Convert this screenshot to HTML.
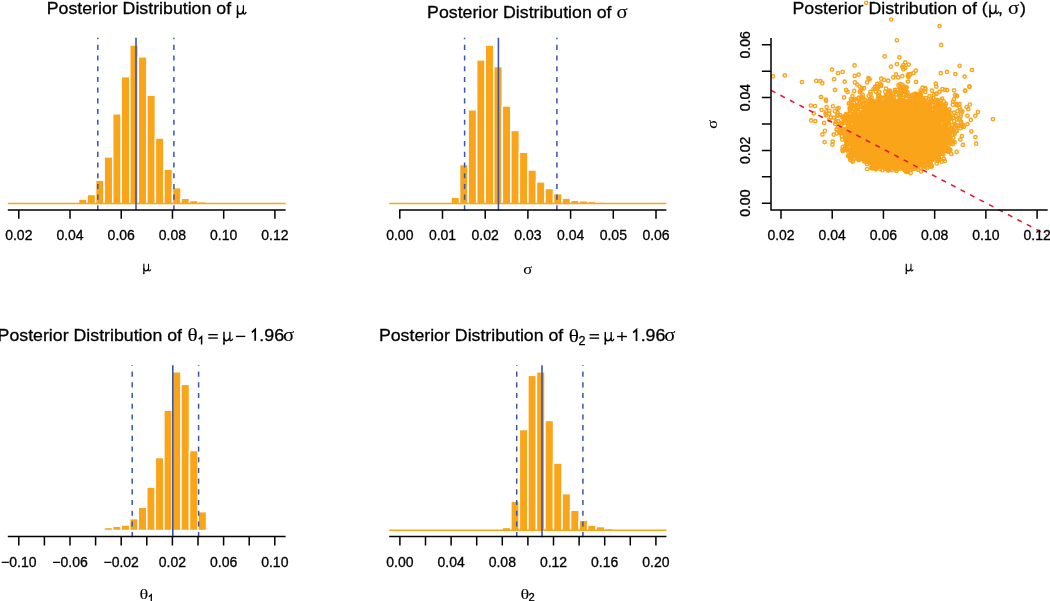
<!DOCTYPE html>
<html><head><meta charset="utf-8"><title>Posterior distributions</title>
<style>html,body{margin:0;padding:0;background:#fff}svg{display:block;will-change:transform}text{font-family:"Liberation Sans",sans-serif;fill:#000;stroke:#000;stroke-width:.3px}.g{font-family:"Liberation Serif",serif;stroke-width:.1px}</style></head>
<body>
<svg width="1050" height="601" viewBox="0 0 1050 601">
<rect width="1050" height="601" fill="#fff"/>
<g fill="#FAA41A" stroke="#fff" stroke-width="1.5">
<rect x="78.56" y="199.05" width="8.54" height="5.2"/>
<rect x="87.1" y="194.45" width="8.54" height="9.8"/>
<rect x="95.63" y="180.15" width="8.54" height="24.1"/>
<rect x="104.17" y="156.85" width="8.54" height="47.4"/>
<rect x="112.71" y="113.75" width="8.54" height="90.5"/>
<rect x="121.25" y="76.65" width="8.54" height="127.6"/>
<rect x="129.78" y="45.05" width="8.54" height="159.2"/>
<rect x="138.32" y="56.85" width="8.54" height="147.4"/>
<rect x="146.86" y="95.15" width="8.54" height="109.1"/>
<rect x="155.39" y="138.05" width="8.54" height="66.2"/>
<rect x="163.93" y="169.15" width="8.54" height="35.1"/>
<rect x="172.47" y="187.65" width="8.54" height="16.6"/>
<rect x="181" y="198.25" width="8.54" height="6"/>
<rect x="189.54" y="200.45" width="8.54" height="3.8"/>
<rect x="198.08" y="201.75" width="8.54" height="2.5"/>
<rect x="206.62" y="202.25" width="8.54" height="2"/>
</g>
<line x1="7.8" x2="285.6" y1="203.5" y2="203.5" stroke="#FAA41A" stroke-width="1.5"/>
<line x1="97.8" x2="97.8" y1="210.4" y2="37.8" stroke="#3A55AA" stroke-width="1.5" stroke-dasharray="5.1 5.6"/>
<line x1="173.9" x2="173.9" y1="210.4" y2="37.8" stroke="#3A55AA" stroke-width="1.5" stroke-dasharray="5.1 5.6"/>
<line x1="136" x2="136" y1="210.4" y2="37.8" stroke="#3A55AA" stroke-width="1.6"/>
<path d="M7.8 209.9H285.6M18.8 209.9v8.9M70.02 209.9v8.9M121.24 209.9v8.9M172.46 209.9v8.9M223.68 209.9v8.9M274.9 209.9v8.9" fill="none" stroke="#000" stroke-width="1.5"/>
<g font-size="14" text-anchor="middle">
<text x="18.8" y="239.9">0.02</text>
<text x="70.02" y="239.9">0.04</text>
<text x="121.24" y="239.9">0.06</text>
<text x="172.46" y="239.9">0.08</text>
<text x="223.68" y="239.9">0.10</text>
<text x="274.9" y="239.9">0.12</text>
</g>
<text transform="translate(46.69 14.20) scale(1 .955)" font-size="17.85" textLength="184.4" lengthAdjust="spacingAndGlyphs">Posterior Distribution of</text>
<g transform="translate(236.30 14.20) scale(1.000)" fill="none" stroke="#000" stroke-linecap="butt"><path d="M1.2 -9V2.4" stroke-width="1.45"/><ellipse cx="1.15" cy="2.9" rx="1.05" ry="1.05" fill="#000" stroke="none"/><path d="M1.2 -3.4C1.3 .7 5.6 1.1 7.05 -3.2" stroke-width="1.5"/><path d="M7.1 -9V-1.7C7.1 .5 8.9 .5 9.9 -2.1" stroke-width="1.3"/></g>
<g transform="translate(142.90 271.00) scale(0.800)" fill="none" stroke="#000" stroke-linecap="butt"><path d="M1.2 -9V2.4" stroke-width="1.45"/><ellipse cx="1.15" cy="2.9" rx="1.05" ry="1.05" fill="#000" stroke="none"/><path d="M1.2 -3.4C1.3 .7 5.6 1.1 7.05 -3.2" stroke-width="1.5"/><path d="M7.1 -9V-1.7C7.1 .5 8.9 .5 9.9 -2.1" stroke-width="1.3"/></g>
<g fill="#FAA41A" stroke="#fff" stroke-width="1.5">
<rect x="451.04" y="197.15" width="8.54" height="7.1"/>
<rect x="459.58" y="164.55" width="8.54" height="39.7"/>
<rect x="468.12" y="109.75" width="8.54" height="94.5"/>
<rect x="476.66" y="59.85" width="8.54" height="144.4"/>
<rect x="485.2" y="45.05" width="8.54" height="159.2"/>
<rect x="493.74" y="66.55" width="8.54" height="137.7"/>
<rect x="502.28" y="105.95" width="8.54" height="98.3"/>
<rect x="510.82" y="130.45" width="8.54" height="73.8"/>
<rect x="519.36" y="152.25" width="8.54" height="52"/>
<rect x="527.9" y="169.95" width="8.54" height="34.3"/>
<rect x="536.44" y="181.85" width="8.54" height="22.4"/>
<rect x="544.98" y="188.45" width="8.54" height="15.8"/>
<rect x="553.52" y="193.65" width="8.54" height="10.6"/>
<rect x="562.06" y="198.15" width="8.54" height="6.1"/>
<rect x="570.6" y="200.25" width="8.54" height="4"/>
<rect x="579.14" y="200.75" width="8.54" height="3.5"/>
<rect x="587.68" y="201.45" width="8.54" height="2.8"/>
<rect x="596.22" y="202.05" width="8.54" height="2.2"/>
</g>
<line x1="389.2" x2="666.4" y1="203.5" y2="203.5" stroke="#FAA41A" stroke-width="1.5"/>
<line x1="464.6" x2="464.6" y1="210.4" y2="37.8" stroke="#3A55AA" stroke-width="1.5" stroke-dasharray="5.1 5.6"/>
<line x1="556.9" x2="556.9" y1="210.4" y2="37.8" stroke="#3A55AA" stroke-width="1.5" stroke-dasharray="5.1 5.6"/>
<line x1="498.4" x2="498.4" y1="210.4" y2="37.8" stroke="#3A55AA" stroke-width="1.6"/>
<path d="M399.05 209.9H666.4M399.8 209.9v8.9M442.5 209.9v8.9M485.2 209.9v8.9M527.9 209.9v8.9M570.6 209.9v8.9M613.3 209.9v8.9M656 209.9v8.9" fill="none" stroke="#000" stroke-width="1.5"/>
<g font-size="14" text-anchor="middle">
<text x="399.8" y="239.9">0.00</text>
<text x="442.5" y="239.9">0.01</text>
<text x="485.2" y="239.9">0.02</text>
<text x="527.9" y="239.9">0.03</text>
<text x="570.6" y="239.9">0.04</text>
<text x="613.3" y="239.9">0.05</text>
<text x="656" y="239.9">0.06</text>
</g>
<text transform="translate(427.09 17.80) scale(1 .955)" font-size="17.85" textLength="184.4" lengthAdjust="spacingAndGlyphs">Posterior Distribution of</text>
<text class="g" font-size="17.7" transform="translate(616.47 17.80) scale(1.170 1.030)">σ</text>
<text class="g" font-size="17.7" transform="translate(523.32 274.00) scale(0.936 0.824)">σ</text>
<path d="M901 65h3v1h-3zM902 66h4v1h-4zM902 68h3v1h-3zM907 73h3v1h-3zM906 74h4v1h-4zM912 74h3v1h-3zM906 75h4v1h-4zM906 76h5v1h-5zM867 77h3v1h-3zM880 77h3v1h-3zM907 77h3v1h-3zM869 79h3v1h-3zM887 79h3v1h-3zM867 80h4v1h-4zM876 82h3v1h-3zM901 83h3v1h-3zM878 84h5v1h-5zM898 84h4v1h-4zM874 85h7v1h-7zM899 85h7v1h-7zM935 85h3v1h-3zM968 85h3v1h-3zM879 86h4v1h-4zM899 86h9v1h-9zM921 86h5v1h-5zM860 87h4v1h-4zM873 87h4v1h-4zM879 87h3v1h-3zM898 87h8v1h-8zM923 87h4v1h-4zM873 88h7v1h-7zM894 88h3v1h-3zM899 88h7v1h-7zM944 88h4v1h-4zM860 89h4v1h-4zM875 89h4v1h-4zM887 89h4v1h-4zM899 89h9v1h-9zM921 89h3v1h-3zM964 89h3v1h-3zM859 90h4v1h-4zM869 90h8v1h-8zM884 90h6v1h-6zM893 90h4v1h-4zM898 90h10v1h-10zM922 90h5v1h-5zM939 90h3v1h-3zM887 91h5v1h-5zM893 91h16v1h-16zM919 91h3v1h-3zM944 91h3v1h-3zM887 92h10v1h-10zM899 92h9v1h-9zM914 92h3v1h-3zM919 92h3v1h-3zM931 92h3v1h-3zM935 92h3v1h-3zM861 93h3v1h-3zM869 93h3v1h-3zM875 93h6v1h-6zM884 93h8v1h-8zM894 93h14v1h-14zM912 93h10v1h-10zM938 93h3v1h-3zM877 94h4v1h-4zM889 94h4v1h-4zM898 94h5v1h-5zM905 94h8v1h-8zM914 94h8v1h-8zM955 94h3v1h-3zM860 95h3v1h-3zM884 95h7v1h-7zM892 95h3v1h-3zM897 95h6v1h-6zM907 95h16v1h-16zM858 96h7v1h-7zM877 96h17v1h-17zM897 96h9v1h-9zM909 96h14v1h-14zM925 96h3v1h-3zM954 96h3v1h-3zM851 97h3v1h-3zM860 97h3v1h-3zM868 97h3v1h-3zM876 97h5v1h-5zM882 97h12v1h-12zM904 97h19v1h-19zM927 97h6v1h-6zM954 97h4v1h-4zM851 98h7v1h-7zM860 98h6v1h-6zM869 98h3v1h-3zM878 98h6v1h-6zM885 98h11v1h-11zM898 98h7v1h-7zM912 98h13v1h-13zM824 99h4v1h-4zM852 99h8v1h-8zM861 99h4v1h-4zM867 99h4v1h-4zM876 99h6v1h-6zM883 99h12v1h-12zM898 99h30v1h-30zM929 99h6v1h-6zM936 99h6v1h-6zM852 100h8v1h-8zM869 100h13v1h-13zM883 100h29v1h-29zM913 100h4v1h-4zM918 100h9v1h-9zM933 100h7v1h-7zM952 100h4v1h-4zM824 101h4v1h-4zM849 101h7v1h-7zM858 101h5v1h-5zM864 101h4v1h-4zM869 101h43v1h-43zM914 101h13v1h-13zM928 101h3v1h-3zM933 101h7v1h-7zM860 102h22v1h-22zM883 102h17v1h-17zM901 102h28v1h-28zM930 102h5v1h-5zM936 102h6v1h-6zM850 103h4v1h-4zM855 103h4v1h-4zM867 103h36v1h-36zM904 103h15v1h-15zM920 103h9v1h-9zM930 103h10v1h-10zM941 103h5v1h-5zM955 103h4v1h-4zM847 104h16v1h-16zM864 104h68v1h-68zM936 104h12v1h-12zM849 105h6v1h-6zM856 105h63v1h-63zM921 105h11v1h-11zM933 105h6v1h-6zM940 105h7v1h-7zM954 105h5v1h-5zM966 105h3v1h-3zM849 106h6v1h-6zM862 106h19v1h-19zM882 106h37v1h-37zM921 106h11v1h-11zM933 106h14v1h-14zM955 106h4v1h-4zM836 107h3v1h-3zM848 107h10v1h-10zM859 107h88v1h-88zM848 108h5v1h-5zM854 108h94v1h-94zM826 109h5v1h-5zM848 109h5v1h-5zM854 109h5v1h-5zM862 109h39v1h-39zM902 109h30v1h-30zM933 109h15v1h-15zM957 109h3v1h-3zM853 110h7v1h-7zM861 110h3v1h-3zM865 110h68v1h-68zM934 110h17v1h-17zM961 110h3v1h-3zM836 111h3v1h-3zM853 111h5v1h-5zM860 111h92v1h-92zM959 111h4v1h-4zM824 112h7v1h-7zM848 112h4v1h-4zM853 112h5v1h-5zM859 112h3v1h-3zM863 112h72v1h-72zM936 112h15v1h-15zM959 112h3v1h-3zM824 113h4v1h-4zM845 113h4v1h-4zM851 113h7v1h-7zM859 113h92v1h-92zM836 114h3v1h-3zM851 114h7v1h-7zM859 114h77v1h-77zM937 114h14v1h-14zM953 114h4v1h-4zM966 114h3v1h-3zM974 114h3v1h-3zM828 115h3v1h-3zM841 115h4v1h-4zM847 115h91v1h-91zM939 115h13v1h-13zM959 115h3v1h-3zM838 116h25v1h-25zM865 116h90v1h-90zM835 117h3v1h-3zM842 117h22v1h-22zM865 117h82v1h-82zM948 117h5v1h-5zM955 117h5v1h-5zM841 118h112v1h-112zM834 119h5v1h-5zM842 119h114v1h-114zM834 120h4v1h-4zM842 120h108v1h-108zM958 120h4v1h-4zM840 121h110v1h-110zM834 122h4v1h-4zM839 122h5v1h-5zM848 122h94v1h-94zM943 122h8v1h-8zM953 122h3v1h-3zM840 123h4v1h-4zM845 123h7v1h-7zM853 123h88v1h-88zM943 123h14v1h-14zM959 123h5v1h-5zM838 124h5v1h-5zM846 124h5v1h-5zM853 124h98v1h-98zM959 124h4v1h-4zM834 125h3v1h-3zM846 125h103v1h-103zM953 125h5v1h-5zM960 125h7v1h-7zM840 126h3v1h-3zM846 126h102v1h-102zM949 126h4v1h-4zM955 126h9v1h-9zM839 127h4v1h-4zM844 127h104v1h-104zM955 127h5v1h-5zM961 127h3v1h-3zM838 128h9v1h-9zM851 128h103v1h-103zM962 128h3v1h-3zM840 129h109v1h-109zM950 129h8v1h-8zM841 130h115v1h-115zM836 131h120v1h-120zM823 132h3v1h-3zM838 132h6v1h-6zM845 132h5v1h-5zM852 132h95v1h-95zM949 132h9v1h-9zM838 133h6v1h-6zM845 133h6v1h-6zM852 133h102v1h-102zM838 134h112v1h-112zM843 135h8v1h-8zM852 135h99v1h-99zM953 135h3v1h-3zM843 136h112v1h-112zM843 137h109v1h-109zM843 138h107v1h-107zM844 139h108v1h-108zM844 140h111v1h-111zM845 141h104v1h-104zM950 141h3v1h-3zM847 142h103v1h-103zM951 142h3v1h-3zM831 143h3v1h-3zM845 143h105v1h-105zM951 143h5v1h-5zM845 144h107v1h-107zM842 145h106v1h-106zM843 146h6v1h-6zM851 146h99v1h-99zM844 147h5v1h-5zM851 147h95v1h-95zM947 147h3v1h-3zM841 148h111v1h-111zM841 149h11v1h-11zM853 149h99v1h-99zM843 150h102v1h-102zM946 150h6v1h-6zM841 151h107v1h-107zM949 151h3v1h-3zM849 152h103v1h-103zM848 153h97v1h-97zM947 153h3v1h-3zM848 154h94v1h-94zM849 155h96v1h-96zM950 155h3v1h-3zM846 156h95v1h-95zM847 157h94v1h-94zM849 158h5v1h-5zM855 158h88v1h-88zM849 159h5v1h-5zM855 159h86v1h-86zM857 160h77v1h-77zM935 160h10v1h-10zM849 161h3v1h-3zM862 161h72v1h-72zM936 161h5v1h-5zM863 162h69v1h-69zM935 162h4v1h-4zM943 162h3v1h-3zM867 163h66v1h-66zM871 164h62v1h-62zM866 165h3v1h-3zM871 165h63v1h-63zM870 166h61v1h-61zM870 167h50v1h-50zM922 167h5v1h-5zM929 167h4v1h-4zM868 168h4v1h-4zM873 168h6v1h-6zM880 168h20v1h-20zM901 168h19v1h-19zM924 168h3v1h-3zM870 169h9v1h-9zM884 169h8v1h-8zM893 169h7v1h-7zM902 169h16v1h-16zM919 169h4v1h-4zM874 170h3v1h-3zM884 170h7v1h-7zM893 170h5v1h-5zM903 170h7v1h-7zM911 170h3v1h-3zM887 171h4v1h-4zM903 171h9v1h-9zM917 171h3v1h-3zM895 172h3v1h-3zM904 172h6v1h-6zM905 173h5v1h-5z" fill="#FAA41A"/>
<g fill="none" stroke="#FAA41A" stroke-width="1.4">
<circle cx="904.9" cy="104.9" r="1.65"/>
<circle cx="896.7" cy="103.5" r="1.65"/>
<circle cx="901.1" cy="165" r="1.65"/>
<circle cx="904.5" cy="101.2" r="1.65"/>
<circle cx="865.2" cy="119.4" r="1.65"/>
<circle cx="900.1" cy="98.1" r="1.65"/>
<circle cx="919.5" cy="105.6" r="1.65"/>
<circle cx="955.8" cy="115.9" r="1.65"/>
<circle cx="932.5" cy="159.9" r="1.65"/>
<circle cx="863.4" cy="112.9" r="1.65"/>
<circle cx="959.6" cy="107.6" r="1.65"/>
<circle cx="945.9" cy="127.2" r="1.65"/>
<circle cx="953.9" cy="112.6" r="1.65"/>
<circle cx="834" cy="117.6" r="1.65"/>
<circle cx="921.5" cy="109.5" r="1.65"/>
<circle cx="960.6" cy="128.2" r="1.65"/>
<circle cx="947.6" cy="118" r="1.65"/>
<circle cx="921.5" cy="102.3" r="1.65"/>
<circle cx="938.3" cy="123.6" r="1.65"/>
<circle cx="907.8" cy="75.7" r="1.65"/>
<circle cx="955.8" cy="131" r="1.65"/>
<circle cx="896.2" cy="94.3" r="1.65"/>
<circle cx="960.9" cy="110.4" r="1.65"/>
<circle cx="854.6" cy="148.3" r="1.65"/>
<circle cx="866.3" cy="119.2" r="1.65"/>
<circle cx="931.3" cy="112.9" r="1.65"/>
<circle cx="913.7" cy="167" r="1.65"/>
<circle cx="855.2" cy="112.1" r="1.65"/>
<circle cx="837.1" cy="129.5" r="1.65"/>
<circle cx="857" cy="157.2" r="1.65"/>
<circle cx="917.3" cy="106" r="1.65"/>
<circle cx="929.5" cy="96.1" r="1.65"/>
<circle cx="871.7" cy="97.5" r="1.65"/>
<circle cx="944.9" cy="119.8" r="1.65"/>
<circle cx="940.6" cy="121" r="1.65"/>
<circle cx="894.2" cy="166.2" r="1.65"/>
<circle cx="921" cy="97.1" r="1.65"/>
<circle cx="889.5" cy="90.7" r="1.65"/>
<circle cx="852.1" cy="100.2" r="1.65"/>
<circle cx="899.2" cy="166.6" r="1.65"/>
<circle cx="876.3" cy="166.3" r="1.65"/>
<circle cx="942.1" cy="98.6" r="1.65"/>
<circle cx="853.1" cy="108.3" r="1.65"/>
<circle cx="950.6" cy="118.3" r="1.65"/>
<circle cx="901.3" cy="88.7" r="1.65"/>
<circle cx="848.6" cy="124.2" r="1.65"/>
<circle cx="907.4" cy="168.4" r="1.65"/>
<circle cx="950.7" cy="113.1" r="1.65"/>
<circle cx="863.4" cy="100.2" r="1.65"/>
<circle cx="858.5" cy="98.5" r="1.65"/>
<circle cx="857.8" cy="107.1" r="1.65"/>
<circle cx="912.9" cy="169.2" r="1.65"/>
<circle cx="938.8" cy="124.6" r="1.65"/>
<circle cx="901.3" cy="112.6" r="1.65"/>
<circle cx="957" cy="104" r="1.65"/>
<circle cx="851.8" cy="158.5" r="1.65"/>
<circle cx="852.5" cy="95.9" r="1.65"/>
<circle cx="841.8" cy="131.9" r="1.65"/>
<circle cx="945.6" cy="147" r="1.65"/>
<circle cx="854.1" cy="99.7" r="1.65"/>
<circle cx="925" cy="100.3" r="1.65"/>
<circle cx="865.3" cy="121.2" r="1.65"/>
<circle cx="839.5" cy="132.7" r="1.65"/>
<circle cx="870.4" cy="91.8" r="1.65"/>
<circle cx="929" cy="109.3" r="1.65"/>
<circle cx="942.3" cy="153.6" r="1.65"/>
<circle cx="922" cy="99.5" r="1.65"/>
<circle cx="919.8" cy="165" r="1.65"/>
<circle cx="893" cy="93.7" r="1.65"/>
<circle cx="946.5" cy="147.9" r="1.65"/>
<circle cx="920.9" cy="167.7" r="1.65"/>
<circle cx="856.9" cy="101.7" r="1.65"/>
<circle cx="861.5" cy="117.5" r="1.65"/>
<circle cx="916.4" cy="97.9" r="1.65"/>
<circle cx="913.5" cy="73" r="1.65"/>
<circle cx="891.9" cy="166.5" r="1.65"/>
<circle cx="868.9" cy="160.3" r="1.65"/>
<circle cx="937.7" cy="123" r="1.65"/>
<circle cx="924.2" cy="107.6" r="1.65"/>
<circle cx="854.8" cy="113.5" r="1.65"/>
<circle cx="875.8" cy="166.9" r="1.65"/>
<circle cx="863.1" cy="107.4" r="1.65"/>
<circle cx="945.3" cy="107.7" r="1.65"/>
<circle cx="901.7" cy="165.7" r="1.65"/>
<circle cx="949.9" cy="137.3" r="1.65"/>
<circle cx="843.9" cy="132.9" r="1.65"/>
<circle cx="963" cy="124.8" r="1.65"/>
<circle cx="943" cy="146.6" r="1.65"/>
<circle cx="886.1" cy="96.5" r="1.65"/>
<circle cx="916.6" cy="100.1" r="1.65"/>
<circle cx="945.5" cy="110.8" r="1.65"/>
<circle cx="847.5" cy="149" r="1.65"/>
<circle cx="854.2" cy="131.8" r="1.65"/>
<circle cx="917.9" cy="167.2" r="1.65"/>
<circle cx="945.3" cy="150.6" r="1.65"/>
<circle cx="942.1" cy="115.3" r="1.65"/>
<circle cx="897.1" cy="167.6" r="1.65"/>
<circle cx="949.4" cy="140.1" r="1.65"/>
<circle cx="936.6" cy="157.5" r="1.65"/>
<circle cx="930.2" cy="161.8" r="1.65"/>
<circle cx="962.1" cy="126.6" r="1.65"/>
<circle cx="919.4" cy="105.8" r="1.65"/>
<circle cx="829.1" cy="113.7" r="1.65"/>
<circle cx="891.2" cy="95" r="1.65"/>
<circle cx="849.1" cy="146.8" r="1.65"/>
<circle cx="941.5" cy="122.7" r="1.65"/>
<circle cx="931.1" cy="166.4" r="1.65"/>
<circle cx="875.3" cy="167.2" r="1.65"/>
<circle cx="866.2" cy="160.4" r="1.65"/>
<circle cx="861.9" cy="112.1" r="1.65"/>
<circle cx="864.3" cy="104" r="1.65"/>
<circle cx="855.2" cy="105.5" r="1.65"/>
<circle cx="905.3" cy="92.2" r="1.65"/>
<circle cx="912" cy="97.7" r="1.65"/>
<circle cx="844.1" cy="117.8" r="1.65"/>
<circle cx="886.8" cy="101.1" r="1.65"/>
<circle cx="851.1" cy="120.7" r="1.65"/>
<circle cx="904.9" cy="170.1" r="1.65"/>
<circle cx="945.5" cy="130.2" r="1.65"/>
<circle cx="945" cy="105.3" r="1.65"/>
<circle cx="921.6" cy="108.9" r="1.65"/>
<circle cx="838.3" cy="121.2" r="1.65"/>
<circle cx="902.6" cy="166.9" r="1.65"/>
<circle cx="855.3" cy="110.8" r="1.65"/>
<circle cx="854.1" cy="134.7" r="1.65"/>
<circle cx="895.9" cy="101.4" r="1.65"/>
<circle cx="902" cy="166.9" r="1.65"/>
<circle cx="952.1" cy="131.4" r="1.65"/>
<circle cx="923.1" cy="109" r="1.65"/>
<circle cx="903.6" cy="166" r="1.65"/>
<circle cx="864.6" cy="116.7" r="1.65"/>
<circle cx="897.3" cy="104.2" r="1.65"/>
<circle cx="886.9" cy="100.1" r="1.65"/>
<circle cx="892.7" cy="98.6" r="1.65"/>
<circle cx="902" cy="105.6" r="1.65"/>
<circle cx="935.9" cy="113.1" r="1.65"/>
<circle cx="945.4" cy="115" r="1.65"/>
<circle cx="917.3" cy="105.1" r="1.65"/>
<circle cx="884.5" cy="105.1" r="1.65"/>
<circle cx="954" cy="99.3" r="1.65"/>
<circle cx="850" cy="110.2" r="1.65"/>
<circle cx="850.9" cy="160.2" r="1.65"/>
<circle cx="887.5" cy="94.8" r="1.65"/>
<circle cx="916.6" cy="108.6" r="1.65"/>
<circle cx="885.9" cy="95.9" r="1.65"/>
<circle cx="929.6" cy="102.3" r="1.65"/>
<circle cx="849.4" cy="134.6" r="1.65"/>
<circle cx="849.6" cy="108.2" r="1.65"/>
<circle cx="948.8" cy="144.8" r="1.65"/>
<circle cx="954.1" cy="120.9" r="1.65"/>
<circle cx="859.8" cy="102.2" r="1.65"/>
<circle cx="903.7" cy="108.4" r="1.65"/>
<circle cx="928.7" cy="164" r="1.65"/>
<circle cx="896.5" cy="168.9" r="1.65"/>
<circle cx="880.5" cy="97.6" r="1.65"/>
<circle cx="923.4" cy="102.9" r="1.65"/>
<circle cx="849.3" cy="141.4" r="1.65"/>
<circle cx="871.4" cy="161.4" r="1.65"/>
<circle cx="873.9" cy="165.3" r="1.65"/>
<circle cx="938.6" cy="159.8" r="1.65"/>
<circle cx="874.5" cy="165.3" r="1.65"/>
<circle cx="850.6" cy="143.7" r="1.65"/>
<circle cx="880.6" cy="165.6" r="1.65"/>
<circle cx="951.1" cy="127.5" r="1.65"/>
<circle cx="847.4" cy="131.2" r="1.65"/>
<circle cx="854.8" cy="114.4" r="1.65"/>
<circle cx="881.1" cy="85.9" r="1.65"/>
<circle cx="935.8" cy="111.6" r="1.65"/>
<circle cx="908.7" cy="96.4" r="1.65"/>
<circle cx="843.6" cy="117" r="1.65"/>
<circle cx="865.5" cy="106.7" r="1.65"/>
<circle cx="855.1" cy="120.9" r="1.65"/>
<circle cx="899.4" cy="94.5" r="1.65"/>
<circle cx="848.7" cy="150.3" r="1.65"/>
<circle cx="855.1" cy="113.8" r="1.65"/>
<circle cx="866" cy="102.8" r="1.65"/>
<circle cx="944.4" cy="124.4" r="1.65"/>
<circle cx="946.9" cy="141.4" r="1.65"/>
<circle cx="853" cy="114.5" r="1.65"/>
<circle cx="919.7" cy="103.2" r="1.65"/>
<circle cx="869.6" cy="162.3" r="1.65"/>
<circle cx="870.2" cy="99.3" r="1.65"/>
<circle cx="851.2" cy="121.6" r="1.65"/>
<circle cx="944.4" cy="107.5" r="1.65"/>
<circle cx="931.9" cy="113.1" r="1.65"/>
<circle cx="890.1" cy="167.9" r="1.65"/>
<circle cx="937.9" cy="124.8" r="1.65"/>
<circle cx="858.9" cy="97.5" r="1.65"/>
<circle cx="944.1" cy="133.4" r="1.65"/>
<circle cx="944.9" cy="129.2" r="1.65"/>
<circle cx="914.2" cy="96.8" r="1.65"/>
<circle cx="862.4" cy="112.9" r="1.65"/>
<circle cx="877.9" cy="105.6" r="1.65"/>
<circle cx="940.6" cy="152.8" r="1.65"/>
<circle cx="922.7" cy="100.4" r="1.65"/>
<circle cx="858.4" cy="116.9" r="1.65"/>
<circle cx="944.5" cy="121.1" r="1.65"/>
<circle cx="920.1" cy="95.3" r="1.65"/>
<circle cx="910.6" cy="172.9" r="1.65"/>
<circle cx="889.4" cy="167.7" r="1.65"/>
<circle cx="864" cy="88.2" r="1.65"/>
<circle cx="879.7" cy="164.8" r="1.65"/>
<circle cx="836.1" cy="120.8" r="1.65"/>
<circle cx="854" cy="148.5" r="1.65"/>
<circle cx="874.9" cy="166.3" r="1.65"/>
<circle cx="944" cy="101.5" r="1.65"/>
<circle cx="840" cy="123.7" r="1.65"/>
<circle cx="924.4" cy="165.3" r="1.65"/>
<circle cx="880.5" cy="164.8" r="1.65"/>
<circle cx="878" cy="87.6" r="1.65"/>
<circle cx="850" cy="137.4" r="1.65"/>
<circle cx="846.8" cy="122" r="1.65"/>
<circle cx="919.4" cy="99" r="1.65"/>
<circle cx="852.4" cy="114.9" r="1.65"/>
<circle cx="864.8" cy="110.1" r="1.65"/>
<circle cx="960.8" cy="123.3" r="1.65"/>
<circle cx="845.5" cy="137.2" r="1.65"/>
<circle cx="939" cy="119.4" r="1.65"/>
<circle cx="883.4" cy="104.3" r="1.65"/>
<circle cx="897.6" cy="89.6" r="1.65"/>
<circle cx="918.1" cy="94.5" r="1.65"/>
<circle cx="847.2" cy="143.4" r="1.65"/>
<circle cx="956.5" cy="105.2" r="1.65"/>
<circle cx="945" cy="132.5" r="1.65"/>
<circle cx="859.7" cy="92.1" r="1.65"/>
<circle cx="873.6" cy="102.7" r="1.65"/>
<circle cx="861" cy="158.6" r="1.65"/>
<circle cx="854.5" cy="114.2" r="1.65"/>
<circle cx="863.7" cy="117.2" r="1.65"/>
<circle cx="938.4" cy="123.3" r="1.65"/>
<circle cx="914.8" cy="167.7" r="1.65"/>
<circle cx="892" cy="165.7" r="1.65"/>
<circle cx="925.4" cy="88.7" r="1.65"/>
<circle cx="877.8" cy="98.3" r="1.65"/>
<circle cx="880.6" cy="97.6" r="1.65"/>
<circle cx="854.8" cy="155.1" r="1.65"/>
<circle cx="949.2" cy="135.1" r="1.65"/>
<circle cx="943.4" cy="145" r="1.65"/>
<circle cx="854.2" cy="138.3" r="1.65"/>
<circle cx="871.3" cy="161" r="1.65"/>
<circle cx="875.6" cy="103" r="1.65"/>
<circle cx="917.6" cy="107.2" r="1.65"/>
<circle cx="900.3" cy="96.5" r="1.65"/>
<circle cx="883.9" cy="167.2" r="1.65"/>
<circle cx="912.5" cy="167.1" r="1.65"/>
<circle cx="841.3" cy="124.7" r="1.65"/>
<circle cx="888" cy="170.5" r="1.65"/>
<circle cx="936.3" cy="93.8" r="1.65"/>
<circle cx="847.1" cy="146.2" r="1.65"/>
<circle cx="947.3" cy="136.1" r="1.65"/>
<circle cx="877.5" cy="86.3" r="1.65"/>
<circle cx="917" cy="103.9" r="1.65"/>
<circle cx="933.7" cy="157.8" r="1.65"/>
<circle cx="920.6" cy="90.5" r="1.65"/>
<circle cx="865.9" cy="112.3" r="1.65"/>
<circle cx="923.4" cy="101" r="1.65"/>
<circle cx="905.6" cy="169.7" r="1.65"/>
<circle cx="900.2" cy="102.5" r="1.65"/>
<circle cx="945.3" cy="131.9" r="1.65"/>
<circle cx="871.4" cy="161.5" r="1.65"/>
<circle cx="855.2" cy="124.3" r="1.65"/>
<circle cx="953" cy="101.6" r="1.65"/>
<circle cx="926.7" cy="100.9" r="1.65"/>
<circle cx="873.5" cy="89" r="1.65"/>
<circle cx="906.9" cy="171.7" r="1.65"/>
<circle cx="838.3" cy="126.5" r="1.65"/>
<circle cx="908.6" cy="167.6" r="1.65"/>
<circle cx="953.4" cy="117.9" r="1.65"/>
<circle cx="944.8" cy="119.1" r="1.65"/>
<circle cx="866.4" cy="113.3" r="1.65"/>
<circle cx="939.3" cy="115.3" r="1.65"/>
<circle cx="880.1" cy="168.9" r="1.65"/>
<circle cx="845.4" cy="139.7" r="1.65"/>
<circle cx="837.6" cy="115.7" r="1.65"/>
<circle cx="884" cy="106.8" r="1.65"/>
<circle cx="886.8" cy="168.8" r="1.65"/>
<circle cx="888.5" cy="168.9" r="1.65"/>
<circle cx="937.9" cy="100.1" r="1.65"/>
<circle cx="866.8" cy="103.7" r="1.65"/>
<circle cx="903.4" cy="167.8" r="1.65"/>
<circle cx="885" cy="167.3" r="1.65"/>
<circle cx="915.7" cy="103.2" r="1.65"/>
<circle cx="900.5" cy="106.8" r="1.65"/>
<circle cx="945.9" cy="135.1" r="1.65"/>
<circle cx="931.2" cy="101.1" r="1.65"/>
<circle cx="842.5" cy="149.6" r="1.65"/>
<circle cx="930.6" cy="166.5" r="1.65"/>
<circle cx="854.7" cy="134.7" r="1.65"/>
<circle cx="855.2" cy="158.5" r="1.65"/>
<circle cx="859.2" cy="159.3" r="1.65"/>
<circle cx="915.6" cy="98.1" r="1.65"/>
<circle cx="889.4" cy="92.5" r="1.65"/>
<circle cx="943.4" cy="154.5" r="1.65"/>
<circle cx="898.3" cy="166.1" r="1.65"/>
<circle cx="860.6" cy="157.7" r="1.65"/>
<circle cx="853" cy="111.6" r="1.65"/>
<circle cx="837.4" cy="115.1" r="1.65"/>
<circle cx="939.6" cy="125.7" r="1.65"/>
<circle cx="853.2" cy="120.4" r="1.65"/>
<circle cx="930" cy="103.4" r="1.65"/>
<circle cx="905.1" cy="106.5" r="1.65"/>
<circle cx="903.9" cy="106" r="1.65"/>
<circle cx="840.2" cy="115.1" r="1.65"/>
<circle cx="941.7" cy="106.1" r="1.65"/>
<circle cx="852" cy="157.7" r="1.65"/>
<circle cx="848.7" cy="134.8" r="1.65"/>
<circle cx="857.2" cy="158.6" r="1.65"/>
<circle cx="908.4" cy="102.4" r="1.65"/>
<circle cx="920.1" cy="94.8" r="1.65"/>
<circle cx="880.9" cy="109" r="1.65"/>
<circle cx="826.2" cy="111.5" r="1.65"/>
<circle cx="868.1" cy="161.6" r="1.65"/>
<circle cx="915.7" cy="102.3" r="1.65"/>
<circle cx="870.3" cy="164.6" r="1.65"/>
<circle cx="946.6" cy="143.5" r="1.65"/>
<circle cx="918.6" cy="103" r="1.65"/>
<circle cx="950.4" cy="150.1" r="1.65"/>
<circle cx="937.9" cy="118.2" r="1.65"/>
<circle cx="947.1" cy="139.3" r="1.65"/>
<circle cx="946.2" cy="144.1" r="1.65"/>
<circle cx="893.5" cy="101.7" r="1.65"/>
<circle cx="863" cy="103.7" r="1.65"/>
<circle cx="948.4" cy="132.5" r="1.65"/>
<circle cx="938.8" cy="154.5" r="1.65"/>
<circle cx="837.8" cy="113.1" r="1.65"/>
<circle cx="878.5" cy="104.5" r="1.65"/>
<circle cx="882.1" cy="109.3" r="1.65"/>
<circle cx="922.3" cy="100.1" r="1.65"/>
<circle cx="855.5" cy="124.1" r="1.65"/>
<circle cx="948.8" cy="112.9" r="1.65"/>
<circle cx="870.6" cy="94.3" r="1.65"/>
<circle cx="940.2" cy="159.7" r="1.65"/>
<circle cx="825.5" cy="113.6" r="1.65"/>
<circle cx="898.1" cy="168.1" r="1.65"/>
<circle cx="909.8" cy="167.4" r="1.65"/>
<circle cx="867.2" cy="110.2" r="1.65"/>
<circle cx="886.4" cy="101.3" r="1.65"/>
<circle cx="938.7" cy="125.3" r="1.65"/>
<circle cx="836.6" cy="129.4" r="1.65"/>
<circle cx="943.9" cy="132.6" r="1.65"/>
<circle cx="922.5" cy="109.9" r="1.65"/>
<circle cx="908.3" cy="74.4" r="1.65"/>
<circle cx="874.8" cy="167.1" r="1.65"/>
<circle cx="890.2" cy="97.6" r="1.65"/>
<circle cx="885.3" cy="103.9" r="1.65"/>
<circle cx="875.5" cy="166.7" r="1.65"/>
<circle cx="884.7" cy="102.7" r="1.65"/>
<circle cx="868.7" cy="100.5" r="1.65"/>
<circle cx="938.3" cy="105.5" r="1.65"/>
<circle cx="846" cy="135.7" r="1.65"/>
<circle cx="957.2" cy="104.1" r="1.65"/>
<circle cx="894" cy="97.4" r="1.65"/>
<circle cx="845.6" cy="115.4" r="1.65"/>
<circle cx="862" cy="158.3" r="1.65"/>
<circle cx="856" cy="99.2" r="1.65"/>
<circle cx="852.5" cy="121.1" r="1.65"/>
<circle cx="854.4" cy="115.5" r="1.65"/>
<circle cx="915.3" cy="101.8" r="1.65"/>
<circle cx="899.8" cy="105.5" r="1.65"/>
<circle cx="940.3" cy="126.9" r="1.65"/>
<circle cx="891.7" cy="165.9" r="1.65"/>
<circle cx="949.8" cy="149.3" r="1.65"/>
<circle cx="851.5" cy="103" r="1.65"/>
<circle cx="864.6" cy="121.4" r="1.65"/>
<circle cx="905.6" cy="96.1" r="1.65"/>
<circle cx="884.7" cy="97.6" r="1.65"/>
<circle cx="873.1" cy="163.4" r="1.65"/>
<circle cx="893.9" cy="166.6" r="1.65"/>
<circle cx="855.1" cy="155.9" r="1.65"/>
<circle cx="842.2" cy="139.6" r="1.65"/>
<circle cx="875.1" cy="88.6" r="1.65"/>
<circle cx="940.9" cy="126.9" r="1.65"/>
<circle cx="940.9" cy="116.5" r="1.65"/>
<circle cx="848.2" cy="118.5" r="1.65"/>
<circle cx="916" cy="168" r="1.65"/>
<circle cx="842.8" cy="146.8" r="1.65"/>
<circle cx="936.7" cy="107.6" r="1.65"/>
<circle cx="883.7" cy="107.5" r="1.65"/>
<circle cx="906.2" cy="101" r="1.65"/>
<circle cx="927.2" cy="167.8" r="1.65"/>
<circle cx="923.9" cy="105.8" r="1.65"/>
<circle cx="871.4" cy="168.2" r="1.65"/>
<circle cx="903.6" cy="89.3" r="1.65"/>
<circle cx="842.2" cy="128.8" r="1.65"/>
<circle cx="852" cy="120.3" r="1.65"/>
<circle cx="943.6" cy="126.5" r="1.65"/>
<circle cx="901.2" cy="88.1" r="1.65"/>
<circle cx="947.6" cy="132.4" r="1.65"/>
<circle cx="879.4" cy="99.3" r="1.65"/>
<circle cx="853.9" cy="126.2" r="1.65"/>
<circle cx="900.2" cy="84.2" r="1.65"/>
<circle cx="947.4" cy="138.5" r="1.65"/>
<circle cx="885.7" cy="103.6" r="1.65"/>
<circle cx="904.2" cy="100.6" r="1.65"/>
<circle cx="867.8" cy="161.4" r="1.65"/>
<circle cx="951.2" cy="154" r="1.65"/>
<circle cx="936" cy="118.6" r="1.65"/>
<circle cx="859.1" cy="118.1" r="1.65"/>
<circle cx="894.8" cy="89.8" r="1.65"/>
<circle cx="934.6" cy="102.2" r="1.65"/>
<circle cx="872.1" cy="161.8" r="1.65"/>
<circle cx="887.7" cy="168.3" r="1.65"/>
<circle cx="862.7" cy="94.9" r="1.65"/>
<circle cx="849.3" cy="125.7" r="1.65"/>
<circle cx="943.5" cy="148.4" r="1.65"/>
<circle cx="938.5" cy="102.5" r="1.65"/>
<circle cx="903.7" cy="111.8" r="1.65"/>
<circle cx="891.4" cy="166.4" r="1.65"/>
<circle cx="851" cy="156.8" r="1.65"/>
<circle cx="929.8" cy="161.8" r="1.65"/>
<circle cx="890.6" cy="166.6" r="1.65"/>
<circle cx="856.1" cy="112.6" r="1.65"/>
<circle cx="946.3" cy="123.6" r="1.65"/>
<circle cx="879" cy="108.6" r="1.65"/>
<circle cx="841" cy="127.9" r="1.65"/>
<circle cx="853.7" cy="130.2" r="1.65"/>
<circle cx="941.1" cy="113.7" r="1.65"/>
<circle cx="891.4" cy="96.6" r="1.65"/>
<circle cx="939.8" cy="117.4" r="1.65"/>
<circle cx="924.3" cy="104.5" r="1.65"/>
<circle cx="900.6" cy="166.4" r="1.65"/>
<circle cx="843.9" cy="120.2" r="1.65"/>
<circle cx="913.1" cy="100.3" r="1.65"/>
<circle cx="941.8" cy="161.7" r="1.65"/>
<circle cx="864.9" cy="159.3" r="1.65"/>
<circle cx="946.7" cy="128.7" r="1.65"/>
<circle cx="899.3" cy="100" r="1.65"/>
<circle cx="956" cy="125.3" r="1.65"/>
<circle cx="938.5" cy="157.2" r="1.65"/>
<circle cx="892.7" cy="165.8" r="1.65"/>
<circle cx="863.2" cy="98" r="1.65"/>
<circle cx="881.3" cy="166.2" r="1.65"/>
<circle cx="841.9" cy="136.3" r="1.65"/>
<circle cx="879.2" cy="92.1" r="1.65"/>
<circle cx="903.4" cy="102.5" r="1.65"/>
<circle cx="898.9" cy="166.7" r="1.65"/>
<circle cx="911.2" cy="166.8" r="1.65"/>
<circle cx="902.2" cy="109.9" r="1.65"/>
<circle cx="888.6" cy="168" r="1.65"/>
<circle cx="937.6" cy="108.7" r="1.65"/>
<circle cx="938.8" cy="124.1" r="1.65"/>
<circle cx="877.4" cy="167.4" r="1.65"/>
<circle cx="891.2" cy="166.5" r="1.65"/>
<circle cx="896.8" cy="166.9" r="1.65"/>
<circle cx="864.1" cy="109.3" r="1.65"/>
<circle cx="939.2" cy="122.3" r="1.65"/>
<circle cx="934.2" cy="94.5" r="1.65"/>
<circle cx="897.4" cy="166.5" r="1.65"/>
<circle cx="951" cy="117.1" r="1.65"/>
<circle cx="939.2" cy="108.6" r="1.65"/>
<circle cx="903.5" cy="166.7" r="1.65"/>
<circle cx="944.1" cy="119.9" r="1.65"/>
<circle cx="895.1" cy="90.5" r="1.65"/>
<circle cx="943.7" cy="116.6" r="1.65"/>
<circle cx="847.5" cy="127.7" r="1.65"/>
<circle cx="843.5" cy="116.5" r="1.65"/>
<circle cx="922.9" cy="103.5" r="1.65"/>
<circle cx="884.8" cy="104.8" r="1.65"/>
<circle cx="953.2" cy="130.5" r="1.65"/>
<circle cx="851.7" cy="135.5" r="1.65"/>
<circle cx="906.2" cy="91.4" r="1.65"/>
<circle cx="849.1" cy="143" r="1.65"/>
<circle cx="898.2" cy="167" r="1.65"/>
<circle cx="936.3" cy="93.8" r="1.65"/>
<circle cx="918.4" cy="96.4" r="1.65"/>
<circle cx="947.7" cy="127.2" r="1.65"/>
<circle cx="932.7" cy="109.7" r="1.65"/>
<circle cx="903.7" cy="95" r="1.65"/>
<circle cx="850.8" cy="99.3" r="1.65"/>
<circle cx="900.5" cy="164.5" r="1.65"/>
<circle cx="884.6" cy="166" r="1.65"/>
<circle cx="899.2" cy="165.3" r="1.65"/>
<circle cx="933.5" cy="98.2" r="1.65"/>
<circle cx="939.6" cy="154" r="1.65"/>
<circle cx="877.2" cy="165.4" r="1.65"/>
<circle cx="911.6" cy="103.9" r="1.65"/>
<circle cx="836.9" cy="133.3" r="1.65"/>
<circle cx="940.8" cy="100.5" r="1.65"/>
<circle cx="950.4" cy="118.3" r="1.65"/>
<circle cx="948" cy="120.8" r="1.65"/>
<circle cx="896.4" cy="170.9" r="1.65"/>
<circle cx="956.8" cy="130.9" r="1.65"/>
<circle cx="961" cy="121.8" r="1.65"/>
<circle cx="878.8" cy="101" r="1.65"/>
<circle cx="953.4" cy="137.7" r="1.65"/>
<circle cx="938.2" cy="101.5" r="1.65"/>
<circle cx="944.8" cy="160.9" r="1.65"/>
<circle cx="866.9" cy="163.9" r="1.65"/>
<circle cx="849.6" cy="150.1" r="1.65"/>
<circle cx="880" cy="83.4" r="1.65"/>
<circle cx="849.9" cy="157.2" r="1.65"/>
<circle cx="891.8" cy="99.8" r="1.65"/>
<circle cx="900.3" cy="89.5" r="1.65"/>
<circle cx="850.8" cy="128.5" r="1.65"/>
<circle cx="944" cy="116" r="1.65"/>
<circle cx="847" cy="145.2" r="1.65"/>
<circle cx="909.5" cy="99.2" r="1.65"/>
<circle cx="900.3" cy="168.8" r="1.65"/>
<circle cx="850.4" cy="139" r="1.65"/>
<circle cx="946.2" cy="110" r="1.65"/>
<circle cx="878.1" cy="95.6" r="1.65"/>
<circle cx="905.5" cy="87.5" r="1.65"/>
<circle cx="898.9" cy="95.5" r="1.65"/>
<circle cx="899.5" cy="100.7" r="1.65"/>
<circle cx="940.4" cy="112.2" r="1.65"/>
<circle cx="909.4" cy="167.2" r="1.65"/>
<circle cx="903.4" cy="166.3" r="1.65"/>
<circle cx="929.5" cy="107.5" r="1.65"/>
<circle cx="873.5" cy="101.1" r="1.65"/>
<circle cx="911.2" cy="104.6" r="1.65"/>
<circle cx="942" cy="105.5" r="1.65"/>
<circle cx="875" cy="167.2" r="1.65"/>
<circle cx="857.3" cy="109.3" r="1.65"/>
<circle cx="846.3" cy="134.9" r="1.65"/>
<circle cx="943.3" cy="145.7" r="1.65"/>
<circle cx="902.9" cy="166.2" r="1.65"/>
<circle cx="916.5" cy="95.8" r="1.65"/>
<circle cx="852.6" cy="127.5" r="1.65"/>
<circle cx="904.3" cy="91.7" r="1.65"/>
<circle cx="921.7" cy="104.1" r="1.65"/>
<circle cx="900.5" cy="100.4" r="1.65"/>
<circle cx="957.4" cy="111.3" r="1.65"/>
<circle cx="898.4" cy="111.9" r="1.65"/>
<circle cx="849.4" cy="125.6" r="1.65"/>
<circle cx="880.2" cy="100.9" r="1.65"/>
<circle cx="858.8" cy="160.1" r="1.65"/>
<circle cx="900.3" cy="165.1" r="1.65"/>
<circle cx="946.3" cy="114.5" r="1.65"/>
<circle cx="897.6" cy="167.9" r="1.65"/>
<circle cx="852.3" cy="130" r="1.65"/>
<circle cx="933.8" cy="116.9" r="1.65"/>
<circle cx="863.8" cy="160.3" r="1.65"/>
<circle cx="959" cy="118.7" r="1.65"/>
<circle cx="930.7" cy="163.9" r="1.65"/>
<circle cx="944.4" cy="145.3" r="1.65"/>
<circle cx="951.9" cy="128.4" r="1.65"/>
<circle cx="851.8" cy="130.4" r="1.65"/>
<circle cx="889.3" cy="169.9" r="1.65"/>
<circle cx="948.9" cy="150.7" r="1.65"/>
<circle cx="948.2" cy="111.3" r="1.65"/>
<circle cx="860.2" cy="105.6" r="1.65"/>
<circle cx="886.1" cy="169" r="1.65"/>
<circle cx="883.7" cy="109.7" r="1.65"/>
<circle cx="860" cy="115.7" r="1.65"/>
<circle cx="905.9" cy="169.7" r="1.65"/>
<circle cx="881.3" cy="84.9" r="1.65"/>
<circle cx="910.2" cy="168.1" r="1.65"/>
<circle cx="938.2" cy="122.3" r="1.65"/>
<circle cx="880.4" cy="109.3" r="1.65"/>
<circle cx="922.8" cy="164.1" r="1.65"/>
<circle cx="848.9" cy="135.2" r="1.65"/>
<circle cx="926.6" cy="165.4" r="1.65"/>
<circle cx="863" cy="159" r="1.65"/>
<circle cx="867.2" cy="161.5" r="1.65"/>
<circle cx="841.6" cy="116.8" r="1.65"/>
<circle cx="899" cy="107" r="1.65"/>
<circle cx="869.8" cy="161.8" r="1.65"/>
<circle cx="920.1" cy="94.7" r="1.65"/>
<circle cx="935" cy="156.8" r="1.65"/>
<circle cx="854.9" cy="134.6" r="1.65"/>
<circle cx="946" cy="141.2" r="1.65"/>
<circle cx="926.7" cy="105.4" r="1.65"/>
<circle cx="881" cy="166.7" r="1.65"/>
<circle cx="932.6" cy="115.4" r="1.65"/>
<circle cx="945.8" cy="140.7" r="1.65"/>
<circle cx="931.9" cy="100.3" r="1.65"/>
<circle cx="845.2" cy="146.4" r="1.65"/>
<circle cx="879.7" cy="166.1" r="1.65"/>
<circle cx="862.3" cy="118.6" r="1.65"/>
<circle cx="900.3" cy="164.9" r="1.65"/>
<circle cx="846.6" cy="142.9" r="1.65"/>
<circle cx="900.8" cy="113.2" r="1.65"/>
<circle cx="934.4" cy="157.2" r="1.65"/>
<circle cx="884.7" cy="108.9" r="1.65"/>
<circle cx="915.5" cy="93.7" r="1.65"/>
<circle cx="853.2" cy="152.4" r="1.65"/>
<circle cx="950.1" cy="138.7" r="1.65"/>
<circle cx="900.2" cy="102.7" r="1.65"/>
<circle cx="906.5" cy="105.5" r="1.65"/>
<circle cx="912.6" cy="104.4" r="1.65"/>
<circle cx="860.7" cy="158.4" r="1.65"/>
<circle cx="938.3" cy="158" r="1.65"/>
<circle cx="902.5" cy="111.9" r="1.65"/>
<circle cx="907.6" cy="92.3" r="1.65"/>
<circle cx="848.1" cy="156.1" r="1.65"/>
<circle cx="904.3" cy="169.9" r="1.65"/>
<circle cx="851.6" cy="152.2" r="1.65"/>
<circle cx="885.1" cy="166.4" r="1.65"/>
<circle cx="845.4" cy="120.3" r="1.65"/>
<circle cx="930" cy="161.3" r="1.65"/>
<circle cx="868.7" cy="95.8" r="1.65"/>
<circle cx="949.7" cy="116.6" r="1.65"/>
<circle cx="938.1" cy="115.5" r="1.65"/>
<circle cx="917.5" cy="108.8" r="1.65"/>
<circle cx="954.5" cy="142.2" r="1.65"/>
<circle cx="861.4" cy="116.2" r="1.65"/>
<circle cx="938.6" cy="125.5" r="1.65"/>
<circle cx="952.8" cy="104.7" r="1.65"/>
<circle cx="844.1" cy="129.5" r="1.65"/>
<circle cx="883.6" cy="106.8" r="1.65"/>
<circle cx="906.7" cy="95.6" r="1.65"/>
<circle cx="894.9" cy="169.3" r="1.65"/>
<circle cx="889.3" cy="168.9" r="1.65"/>
<circle cx="879.5" cy="104.7" r="1.65"/>
<circle cx="848.2" cy="116.1" r="1.65"/>
<circle cx="850.9" cy="135.4" r="1.65"/>
<circle cx="901.3" cy="91" r="1.65"/>
<circle cx="935.1" cy="111.6" r="1.65"/>
<circle cx="841.2" cy="133" r="1.65"/>
<circle cx="866.2" cy="161.1" r="1.65"/>
<circle cx="878.9" cy="94.9" r="1.65"/>
<circle cx="900.4" cy="113.3" r="1.65"/>
<circle cx="895.3" cy="92.1" r="1.65"/>
<circle cx="910.1" cy="74.4" r="1.65"/>
<circle cx="843.8" cy="123.1" r="1.65"/>
<circle cx="915.3" cy="167.6" r="1.65"/>
<circle cx="935.2" cy="101.9" r="1.65"/>
<circle cx="897.7" cy="166" r="1.65"/>
<circle cx="956.6" cy="126.7" r="1.65"/>
<circle cx="913.4" cy="104.4" r="1.65"/>
<circle cx="848" cy="128.7" r="1.65"/>
<circle cx="877" cy="102.6" r="1.65"/>
<circle cx="952.8" cy="144.1" r="1.65"/>
<circle cx="932.5" cy="159.9" r="1.65"/>
<circle cx="935.7" cy="109.9" r="1.65"/>
<circle cx="855.8" cy="150.8" r="1.65"/>
<circle cx="867.2" cy="160.2" r="1.65"/>
<circle cx="865.4" cy="160.2" r="1.65"/>
<circle cx="846" cy="138.2" r="1.65"/>
<circle cx="926" cy="98" r="1.65"/>
<circle cx="873.6" cy="164.3" r="1.65"/>
<circle cx="935.4" cy="111.7" r="1.65"/>
<circle cx="885" cy="166.4" r="1.65"/>
<circle cx="846.5" cy="143.6" r="1.65"/>
<circle cx="901.3" cy="110.6" r="1.65"/>
<circle cx="873" cy="165.3" r="1.65"/>
<circle cx="910.8" cy="95.5" r="1.65"/>
<circle cx="910.4" cy="167.8" r="1.65"/>
<circle cx="909.8" cy="101" r="1.65"/>
<circle cx="939.2" cy="155.5" r="1.65"/>
<circle cx="878.7" cy="96.2" r="1.65"/>
<circle cx="949.4" cy="109.4" r="1.65"/>
<circle cx="916.2" cy="94.7" r="1.65"/>
<circle cx="906.7" cy="102" r="1.65"/>
<circle cx="937.7" cy="160.8" r="1.65"/>
<circle cx="900.1" cy="94.2" r="1.65"/>
<circle cx="950.7" cy="132.4" r="1.65"/>
<circle cx="900.7" cy="107.5" r="1.65"/>
<circle cx="882.4" cy="170.2" r="1.65"/>
<circle cx="947.8" cy="120.7" r="1.65"/>
<circle cx="924" cy="101.3" r="1.65"/>
<circle cx="948.1" cy="117.1" r="1.65"/>
<circle cx="903.2" cy="167.8" r="1.65"/>
<circle cx="915.9" cy="168" r="1.65"/>
<circle cx="842.5" cy="130.1" r="1.65"/>
<circle cx="945.9" cy="103.5" r="1.65"/>
<circle cx="856.1" cy="111.4" r="1.65"/>
<circle cx="855.7" cy="112.2" r="1.65"/>
<circle cx="940.9" cy="106.8" r="1.65"/>
<circle cx="920.8" cy="168.5" r="1.65"/>
<circle cx="904.1" cy="90.7" r="1.65"/>
<circle cx="852.9" cy="161.3" r="1.65"/>
<circle cx="847.8" cy="122.4" r="1.65"/>
<circle cx="952" cy="125.1" r="1.65"/>
<circle cx="851.5" cy="150.3" r="1.65"/>
<circle cx="849.4" cy="103" r="1.65"/>
<circle cx="895.1" cy="167.7" r="1.65"/>
<circle cx="923.2" cy="98.3" r="1.65"/>
<circle cx="900" cy="102.6" r="1.65"/>
<circle cx="861.8" cy="88.4" r="1.65"/>
<circle cx="917.8" cy="110.1" r="1.65"/>
<circle cx="942.6" cy="119.7" r="1.65"/>
<circle cx="908.3" cy="172" r="1.65"/>
<circle cx="903.7" cy="111.6" r="1.65"/>
<circle cx="854.9" cy="120.4" r="1.65"/>
<circle cx="945.5" cy="108.8" r="1.65"/>
<circle cx="858.2" cy="111.4" r="1.65"/>
<circle cx="865.5" cy="119.7" r="1.65"/>
<circle cx="880.8" cy="97.3" r="1.65"/>
<circle cx="846.9" cy="143.3" r="1.65"/>
<circle cx="915.9" cy="168.4" r="1.65"/>
<circle cx="870.9" cy="161" r="1.65"/>
<circle cx="871.5" cy="102.1" r="1.65"/>
<circle cx="953.1" cy="142.1" r="1.65"/>
<circle cx="850" cy="113.9" r="1.65"/>
<circle cx="848.5" cy="151.9" r="1.65"/>
<circle cx="930.9" cy="98.6" r="1.65"/>
<circle cx="864.3" cy="161.3" r="1.65"/>
<circle cx="855.9" cy="105.3" r="1.65"/>
<circle cx="899.1" cy="107.7" r="1.65"/>
<circle cx="873" cy="162" r="1.65"/>
<circle cx="865.7" cy="108.2" r="1.65"/>
<circle cx="846.9" cy="149.8" r="1.65"/>
<circle cx="940" cy="120.9" r="1.65"/>
<circle cx="846" cy="130" r="1.65"/>
<circle cx="934.7" cy="106.7" r="1.65"/>
<circle cx="904.6" cy="168.6" r="1.65"/>
<circle cx="845.9" cy="149.8" r="1.65"/>
<circle cx="903.4" cy="69.2" r="1.65"/>
<circle cx="932.5" cy="114.8" r="1.65"/>
<circle cx="917" cy="96.7" r="1.65"/>
<circle cx="931.8" cy="105.3" r="1.65"/>
<circle cx="945.7" cy="141.1" r="1.65"/>
<circle cx="872.4" cy="101.7" r="1.65"/>
<circle cx="883.9" cy="105.6" r="1.65"/>
<circle cx="954.7" cy="133.8" r="1.65"/>
<circle cx="949.6" cy="116.4" r="1.65"/>
<circle cx="884.6" cy="98.9" r="1.65"/>
<circle cx="862.5" cy="113.2" r="1.65"/>
<circle cx="922.5" cy="100.3" r="1.65"/>
<circle cx="873.4" cy="163.2" r="1.65"/>
<circle cx="932" cy="158.8" r="1.65"/>
<circle cx="914.3" cy="98.1" r="1.65"/>
<circle cx="850.8" cy="107.3" r="1.65"/>
<circle cx="835.1" cy="124" r="1.65"/>
<circle cx="902.4" cy="66.8" r="1.65"/>
<circle cx="899.8" cy="94.5" r="1.65"/>
<circle cx="866.2" cy="115.5" r="1.65"/>
<circle cx="845" cy="129" r="1.65"/>
<circle cx="877.3" cy="83.9" r="1.65"/>
<circle cx="925.7" cy="104.6" r="1.65"/>
<circle cx="846.6" cy="139.3" r="1.65"/>
<circle cx="858.4" cy="116.4" r="1.65"/>
<circle cx="941.2" cy="118.1" r="1.65"/>
<circle cx="903.9" cy="166.3" r="1.65"/>
<circle cx="869.4" cy="161.6" r="1.65"/>
<circle cx="872.9" cy="164.7" r="1.65"/>
<circle cx="861.5" cy="96.7" r="1.65"/>
<circle cx="853.1" cy="146.6" r="1.65"/>
<circle cx="851" cy="144.4" r="1.65"/>
<circle cx="885.2" cy="101.5" r="1.65"/>
<circle cx="861" cy="106.9" r="1.65"/>
<circle cx="917.9" cy="165" r="1.65"/>
<circle cx="892.2" cy="166.9" r="1.65"/>
<circle cx="843.7" cy="119.3" r="1.65"/>
<circle cx="904.2" cy="167.3" r="1.65"/>
<circle cx="943.8" cy="116.7" r="1.65"/>
<circle cx="941.6" cy="150.9" r="1.65"/>
<circle cx="945.6" cy="123.5" r="1.65"/>
<circle cx="853.1" cy="131.5" r="1.65"/>
<circle cx="880.3" cy="109.9" r="1.65"/>
<circle cx="951.2" cy="142.7" r="1.65"/>
<circle cx="950.2" cy="131.3" r="1.65"/>
<circle cx="942.9" cy="151.5" r="1.65"/>
<circle cx="912" cy="104.6" r="1.65"/>
<circle cx="865.3" cy="100" r="1.65"/>
<circle cx="913" cy="94.8" r="1.65"/>
<circle cx="848.1" cy="124.9" r="1.65"/>
<circle cx="895.8" cy="103.2" r="1.65"/>
<circle cx="845.4" cy="132.8" r="1.65"/>
<circle cx="855.5" cy="125.2" r="1.65"/>
<circle cx="868.6" cy="101.3" r="1.65"/>
<circle cx="954.8" cy="124.3" r="1.65"/>
<circle cx="922.3" cy="165.2" r="1.65"/>
<circle cx="917.9" cy="100.5" r="1.65"/>
<circle cx="858.3" cy="158.1" r="1.65"/>
<circle cx="844.9" cy="149.8" r="1.65"/>
<circle cx="933.2" cy="112.5" r="1.65"/>
<circle cx="855.3" cy="106.6" r="1.65"/>
<circle cx="936.9" cy="106.3" r="1.65"/>
<circle cx="889.5" cy="169" r="1.65"/>
<circle cx="893.8" cy="166.8" r="1.65"/>
<circle cx="921" cy="171.5" r="1.65"/>
<circle cx="906" cy="171.8" r="1.65"/>
<circle cx="848.7" cy="103.5" r="1.65"/>
<circle cx="921.1" cy="95.9" r="1.65"/>
<circle cx="871.4" cy="162.6" r="1.65"/>
<circle cx="932.2" cy="159.3" r="1.65"/>
<circle cx="848.2" cy="125.9" r="1.65"/>
<circle cx="867.1" cy="82.4" r="1.65"/>
<circle cx="889.8" cy="91" r="1.65"/>
<circle cx="863" cy="120.2" r="1.65"/>
<circle cx="945.2" cy="118" r="1.65"/>
<circle cx="903.1" cy="105.6" r="1.65"/>
<circle cx="851.5" cy="105" r="1.65"/>
<circle cx="886" cy="88.6" r="1.65"/>
<circle cx="943.9" cy="158.8" r="1.65"/>
<circle cx="932.9" cy="159" r="1.65"/>
<circle cx="948.7" cy="122.7" r="1.65"/>
<circle cx="916.3" cy="108" r="1.65"/>
<circle cx="891.7" cy="170.1" r="1.65"/>
<circle cx="917.6" cy="97.5" r="1.65"/>
<circle cx="945.8" cy="147" r="1.65"/>
<circle cx="875.1" cy="86.7" r="1.65"/>
<circle cx="872.9" cy="168.3" r="1.65"/>
<circle cx="853" cy="126.4" r="1.65"/>
<circle cx="891.8" cy="166.1" r="1.65"/>
<circle cx="899" cy="165.7" r="1.65"/>
<circle cx="863.7" cy="121.1" r="1.65"/>
<circle cx="935.3" cy="108.4" r="1.65"/>
<circle cx="934.2" cy="107.9" r="1.65"/>
<circle cx="904.7" cy="167.6" r="1.65"/>
<circle cx="846.1" cy="114.2" r="1.65"/>
<circle cx="872.9" cy="161.4" r="1.65"/>
<circle cx="913.1" cy="167.8" r="1.65"/>
<circle cx="868.9" cy="160.9" r="1.65"/>
<circle cx="860.7" cy="115" r="1.65"/>
<circle cx="848.8" cy="120.6" r="1.65"/>
<circle cx="947.1" cy="137.9" r="1.65"/>
<circle cx="848.8" cy="117.2" r="1.65"/>
<circle cx="943" cy="150.9" r="1.65"/>
<circle cx="849.1" cy="155.7" r="1.65"/>
<circle cx="945.8" cy="134.2" r="1.65"/>
<circle cx="929.6" cy="161.3" r="1.65"/>
<circle cx="911.4" cy="95.8" r="1.65"/>
<circle cx="910.8" cy="166.6" r="1.65"/>
<circle cx="875.7" cy="91.6" r="1.65"/>
<circle cx="841.6" cy="123" r="1.65"/>
<circle cx="837.3" cy="108.9" r="1.65"/>
<circle cx="924.3" cy="165" r="1.65"/>
<circle cx="850.4" cy="159.9" r="1.65"/>
<circle cx="866.1" cy="108.5" r="1.65"/>
<circle cx="864" cy="119.5" r="1.65"/>
<circle cx="943.4" cy="125.4" r="1.65"/>
<circle cx="922" cy="103.6" r="1.65"/>
<circle cx="859.6" cy="102.7" r="1.65"/>
<circle cx="940.7" cy="100.7" r="1.65"/>
<circle cx="940.7" cy="152.8" r="1.65"/>
<circle cx="960.5" cy="116.7" r="1.65"/>
<circle cx="892.8" cy="166.9" r="1.65"/>
<circle cx="882.1" cy="99.6" r="1.65"/>
<circle cx="873.2" cy="162.1" r="1.65"/>
<circle cx="898.5" cy="85.2" r="1.65"/>
<circle cx="946.6" cy="134.6" r="1.65"/>
<circle cx="866.6" cy="111.8" r="1.65"/>
<circle cx="899.6" cy="95" r="1.65"/>
<circle cx="900" cy="91" r="1.65"/>
<circle cx="944" cy="132.6" r="1.65"/>
<circle cx="929.3" cy="160.7" r="1.65"/>
<circle cx="922.2" cy="91.3" r="1.65"/>
<circle cx="849.9" cy="111.2" r="1.65"/>
<circle cx="929.7" cy="107.4" r="1.65"/>
<circle cx="853.6" cy="146.8" r="1.65"/>
<circle cx="855" cy="146.5" r="1.65"/>
<circle cx="913" cy="94.8" r="1.65"/>
<circle cx="945.5" cy="127.4" r="1.65"/>
<circle cx="947.7" cy="121.9" r="1.65"/>
<circle cx="954.1" cy="132.3" r="1.65"/>
<circle cx="889.5" cy="96.9" r="1.65"/>
<circle cx="959.5" cy="119.3" r="1.65"/>
<circle cx="840.3" cy="130.1" r="1.65"/>
<circle cx="854" cy="152.6" r="1.65"/>
<circle cx="903.3" cy="100.1" r="1.65"/>
<circle cx="868.1" cy="112" r="1.65"/>
<circle cx="892.9" cy="101.6" r="1.65"/>
<circle cx="934.2" cy="115.9" r="1.65"/>
<circle cx="944.9" cy="133.7" r="1.65"/>
<circle cx="890.4" cy="167.9" r="1.65"/>
<circle cx="932.4" cy="112.3" r="1.65"/>
<circle cx="885.1" cy="91.8" r="1.65"/>
<circle cx="927.6" cy="106.9" r="1.65"/>
<circle cx="942" cy="148.8" r="1.65"/>
<circle cx="948" cy="136" r="1.65"/>
<circle cx="922.8" cy="99.9" r="1.65"/>
<circle cx="872.5" cy="161.8" r="1.65"/>
<circle cx="851.5" cy="143.4" r="1.65"/>
<circle cx="942.3" cy="105.1" r="1.65"/>
<circle cx="952.6" cy="134.9" r="1.65"/>
<circle cx="868.1" cy="106.3" r="1.65"/>
<circle cx="847.6" cy="129.1" r="1.65"/>
<circle cx="852.8" cy="156.6" r="1.65"/>
<circle cx="905.9" cy="87.9" r="1.65"/>
<circle cx="872.1" cy="167.6" r="1.65"/>
<circle cx="949.9" cy="143.4" r="1.65"/>
<circle cx="854.9" cy="111.7" r="1.65"/>
<circle cx="903.9" cy="167.6" r="1.65"/>
<circle cx="866.9" cy="107.6" r="1.65"/>
<circle cx="867.7" cy="116.9" r="1.65"/>
<circle cx="900.8" cy="165.6" r="1.65"/>
<circle cx="893.9" cy="102.7" r="1.65"/>
<circle cx="910.6" cy="74.1" r="1.65"/>
<circle cx="862.5" cy="112.1" r="1.65"/>
<circle cx="908.8" cy="167.3" r="1.65"/>
<circle cx="912.5" cy="101.6" r="1.65"/>
<circle cx="900.8" cy="101.9" r="1.65"/>
<circle cx="891.8" cy="99.6" r="1.65"/>
<circle cx="932.6" cy="114.7" r="1.65"/>
<circle cx="847.1" cy="133.9" r="1.65"/>
<circle cx="903.3" cy="65" r="1.65"/>
<circle cx="851" cy="137.5" r="1.65"/>
<circle cx="940.9" cy="127.3" r="1.65"/>
<circle cx="947.5" cy="113.7" r="1.65"/>
<circle cx="850.6" cy="108.7" r="1.65"/>
<circle cx="952.7" cy="129.6" r="1.65"/>
<circle cx="944.4" cy="150" r="1.65"/>
<circle cx="921.3" cy="99.3" r="1.65"/>
<circle cx="920.1" cy="110.3" r="1.65"/>
<circle cx="917.7" cy="165.6" r="1.65"/>
<circle cx="958.1" cy="125.5" r="1.65"/>
<circle cx="920.9" cy="98.6" r="1.65"/>
<circle cx="939.9" cy="113.2" r="1.65"/>
<circle cx="905.2" cy="67.8" r="1.65"/>
<circle cx="917.9" cy="169.6" r="1.65"/>
<circle cx="937.2" cy="160.8" r="1.65"/>
<circle cx="851.4" cy="107.4" r="1.65"/>
<circle cx="906.2" cy="104.2" r="1.65"/>
<circle cx="847" cy="137.7" r="1.65"/>
<circle cx="925.3" cy="166.9" r="1.65"/>
<circle cx="904.2" cy="107.5" r="1.65"/>
<circle cx="894.5" cy="101.5" r="1.65"/>
<circle cx="918.8" cy="94.3" r="1.65"/>
<circle cx="929.5" cy="105.4" r="1.65"/>
<circle cx="905.9" cy="169.2" r="1.65"/>
<circle cx="849.1" cy="130.6" r="1.65"/>
<circle cx="864.2" cy="117" r="1.65"/>
<circle cx="869.5" cy="79.1" r="1.65"/>
<circle cx="876.1" cy="101.7" r="1.65"/>
<circle cx="945.8" cy="145.2" r="1.65"/>
<circle cx="857.3" cy="117.7" r="1.65"/>
<circle cx="879.2" cy="102.1" r="1.65"/>
<circle cx="875.8" cy="169.3" r="1.65"/>
<circle cx="905.1" cy="111.2" r="1.65"/>
<circle cx="939.4" cy="91.9" r="1.65"/>
<circle cx="922.8" cy="164.9" r="1.65"/>
<circle cx="909.9" cy="166.6" r="1.65"/>
<circle cx="956.9" cy="119.6" r="1.65"/>
<circle cx="880.2" cy="109.9" r="1.65"/>
<circle cx="860" cy="100.5" r="1.65"/>
<circle cx="940.2" cy="119.3" r="1.65"/>
<circle cx="925.4" cy="92.1" r="1.65"/>
<circle cx="935.5" cy="100.4" r="1.65"/>
<circle cx="890.9" cy="99.2" r="1.65"/>
<circle cx="866.2" cy="2.8" r="1.65"/>
<circle cx="891.2" cy="19.5" r="1.65"/>
<circle cx="896.9" cy="40.3" r="1.65"/>
<circle cx="884.7" cy="56.4" r="1.65"/>
<circle cx="899.4" cy="57.4" r="1.65"/>
<circle cx="905.2" cy="62.4" r="1.65"/>
<circle cx="908.7" cy="64.6" r="1.65"/>
<circle cx="896.9" cy="64.1" r="1.65"/>
<circle cx="891" cy="66.6" r="1.65"/>
<circle cx="854.6" cy="65.4" r="1.65"/>
<circle cx="832.1" cy="69.6" r="1.65"/>
<circle cx="838.1" cy="73.2" r="1.65"/>
<circle cx="842.6" cy="71.9" r="1.65"/>
<circle cx="854.7" cy="75.9" r="1.65"/>
<circle cx="858.6" cy="74.6" r="1.65"/>
<circle cx="773" cy="76.4" r="1.65"/>
<circle cx="784.8" cy="75.4" r="1.65"/>
<circle cx="802" cy="82.1" r="1.65"/>
<circle cx="816.3" cy="80.9" r="1.65"/>
<circle cx="820.4" cy="81.1" r="1.65"/>
<circle cx="822.3" cy="83.2" r="1.65"/>
<circle cx="834.1" cy="79.2" r="1.65"/>
<circle cx="844.7" cy="81.7" r="1.65"/>
<circle cx="868.4" cy="78.2" r="1.65"/>
<circle cx="854.9" cy="82.4" r="1.65"/>
<circle cx="857.2" cy="84.6" r="1.65"/>
<circle cx="859.7" cy="86.6" r="1.65"/>
<circle cx="834.9" cy="89.9" r="1.65"/>
<circle cx="846.1" cy="89.9" r="1.65"/>
<circle cx="847.6" cy="91.9" r="1.65"/>
<circle cx="854.2" cy="90.9" r="1.65"/>
<circle cx="860.7" cy="90.7" r="1.65"/>
<circle cx="821.1" cy="97" r="1.65"/>
<circle cx="825.9" cy="99.5" r="1.65"/>
<circle cx="844.1" cy="97.4" r="1.65"/>
<circle cx="881.2" cy="78.7" r="1.65"/>
<circle cx="884" cy="79.9" r="1.65"/>
<circle cx="896" cy="74.4" r="1.65"/>
<circle cx="893.2" cy="77.4" r="1.65"/>
<circle cx="898.2" cy="77.4" r="1.65"/>
<circle cx="902.3" cy="76.2" r="1.65"/>
<circle cx="908.5" cy="76.9" r="1.65"/>
<circle cx="888.2" cy="80.7" r="1.65"/>
<circle cx="939.5" cy="26.1" r="1.65"/>
<circle cx="941.1" cy="44.9" r="1.65"/>
<circle cx="915.8" cy="70.7" r="1.65"/>
<circle cx="940.8" cy="73.2" r="1.65"/>
<circle cx="946.9" cy="71.9" r="1.65"/>
<circle cx="955.3" cy="74.1" r="1.65"/>
<circle cx="959.6" cy="65.8" r="1.65"/>
<circle cx="971.9" cy="69.9" r="1.65"/>
<circle cx="964.6" cy="76.6" r="1.65"/>
<circle cx="969.4" cy="86.6" r="1.65"/>
<circle cx="965.3" cy="90.7" r="1.65"/>
<circle cx="954.1" cy="90.4" r="1.65"/>
<circle cx="956.6" cy="95.7" r="1.65"/>
<circle cx="908" cy="81.6" r="1.65"/>
<circle cx="916.1" cy="81.9" r="1.65"/>
<circle cx="935.8" cy="83.7" r="1.65"/>
<circle cx="936.3" cy="86.6" r="1.65"/>
<circle cx="922.5" cy="87.7" r="1.65"/>
<circle cx="925" cy="88.2" r="1.65"/>
<circle cx="932" cy="90.7" r="1.65"/>
<circle cx="942.5" cy="89.1" r="1.65"/>
<circle cx="945" cy="89.9" r="1.65"/>
<circle cx="947.1" cy="90.2" r="1.65"/>
<circle cx="902.5" cy="84.9" r="1.65"/>
<circle cx="904.2" cy="86.6" r="1.65"/>
<circle cx="906.7" cy="87.4" r="1.65"/>
<circle cx="820.9" cy="97" r="1.65"/>
<circle cx="826.1" cy="100.8" r="1.65"/>
<circle cx="810.8" cy="105.5" r="1.65"/>
<circle cx="814.9" cy="106" r="1.65"/>
<circle cx="826.6" cy="107.1" r="1.65"/>
<circle cx="832.9" cy="106.3" r="1.65"/>
<circle cx="838.6" cy="108" r="1.65"/>
<circle cx="821.6" cy="110" r="1.65"/>
<circle cx="829.4" cy="110.8" r="1.65"/>
<circle cx="834.9" cy="111.3" r="1.65"/>
<circle cx="813.8" cy="113.3" r="1.65"/>
<circle cx="826.1" cy="115.3" r="1.65"/>
<circle cx="830.7" cy="117.4" r="1.65"/>
<circle cx="811.1" cy="120.4" r="1.65"/>
<circle cx="815.3" cy="121.1" r="1.65"/>
<circle cx="824.1" cy="122.9" r="1.65"/>
<circle cx="829.1" cy="119.9" r="1.65"/>
<circle cx="835.7" cy="121.9" r="1.65"/>
<circle cx="824.9" cy="130.8" r="1.65"/>
<circle cx="822.4" cy="134.4" r="1.65"/>
<circle cx="833.7" cy="134.6" r="1.65"/>
<circle cx="824.6" cy="142.1" r="1.65"/>
<circle cx="832.7" cy="141.6" r="1.65"/>
<circle cx="832.4" cy="144.6" r="1.65"/>
<circle cx="842.7" cy="151.2" r="1.65"/>
<circle cx="846.2" cy="148.6" r="1.65"/>
<circle cx="852.7" cy="161.5" r="1.65"/>
<circle cx="867" cy="169" r="1.65"/>
<circle cx="874.8" cy="168.2" r="1.65"/>
<circle cx="992.9" cy="119.1" r="1.65"/>
<circle cx="977.9" cy="112.1" r="1.65"/>
<circle cx="975.3" cy="115.8" r="1.65"/>
<circle cx="969.9" cy="104.5" r="1.65"/>
<circle cx="966.6" cy="107" r="1.65"/>
<circle cx="968.3" cy="109.1" r="1.65"/>
<circle cx="959.6" cy="104.1" r="1.65"/>
<circle cx="964.9" cy="90.8" r="1.65"/>
<circle cx="969.6" cy="86.7" r="1.65"/>
<circle cx="955" cy="95" r="1.65"/>
<circle cx="957" cy="96.1" r="1.65"/>
<circle cx="967.4" cy="115.8" r="1.65"/>
<circle cx="970.8" cy="119.9" r="1.65"/>
<circle cx="967.4" cy="124.1" r="1.65"/>
<circle cx="964.1" cy="126.6" r="1.65"/>
<circle cx="962.4" cy="111.6" r="1.65"/>
<circle cx="960.8" cy="114.1" r="1.65"/>
<circle cx="971.3" cy="131.3" r="1.65"/>
<circle cx="975.4" cy="137.1" r="1.65"/>
<circle cx="976.1" cy="143.7" r="1.65"/>
<circle cx="961.9" cy="136.2" r="1.65"/>
<circle cx="960.4" cy="139.6" r="1.65"/>
<circle cx="962.9" cy="144.9" r="1.65"/>
<circle cx="956.6" cy="151.9" r="1.65"/>
<circle cx="948.3" cy="151.9" r="1.65"/>
<circle cx="936.7" cy="163.5" r="1.65"/>
<circle cx="932" cy="166" r="1.65"/>
</g>
<line x1="771" y1="90.3" x2="1046.6" y2="234.8" stroke="#E8112D" stroke-width="1.5" stroke-dasharray="5 5.7"/>
<path d="M771 37.9V209.9H1047.7M781 209.9v8.9M832.22 209.9v8.9M883.44 209.9v8.9M934.66 209.9v8.9M985.88 209.9v8.9M1037.1 209.9v8.9M771 203.2h-9.1M771 176.8h-9.1M771 150.4h-9.1M771 124h-9.1M771 97.6h-9.1M771 71.2h-9.1M771 44.8h-9.1" fill="none" stroke="#000" stroke-width="1.5"/>
<g font-size="14" text-anchor="middle">
<text x="781" y="239.9">0.02</text>
<text x="832.22" y="239.9">0.04</text>
<text x="883.44" y="239.9">0.06</text>
<text x="934.66" y="239.9">0.08</text>
<text x="985.88" y="239.9">0.10</text>
<text x="1037.1" y="239.9">0.12</text>
<text transform="translate(750.3 203.2) rotate(-90)">0.00</text>
<text transform="translate(750.3 150.4) rotate(-90)">0.02</text>
<text transform="translate(750.3 97.6) rotate(-90)">0.04</text>
<text transform="translate(750.3 44.8) rotate(-90)">0.06</text>
</g>
<text transform="translate(792.49 13.70) scale(1 .955)" font-size="17.85" textLength="184.4" lengthAdjust="spacingAndGlyphs">Posterior Distribution of</text>
<text transform="translate(981.87 13.70) scale(1 .955)" font-size="17.85">(</text>
<g transform="translate(988.80 13.70) scale(1.000)" fill="none" stroke="#000" stroke-linecap="butt"><path d="M1.2 -9V2.4" stroke-width="1.45"/><ellipse cx="1.15" cy="2.9" rx="1.05" ry="1.05" fill="#000" stroke="none"/><path d="M1.2 -3.4C1.3 .7 5.6 1.1 7.05 -3.2" stroke-width="1.5"/><path d="M7.1 -9V-1.7C7.1 .5 8.9 .5 9.9 -2.1" stroke-width="1.3"/></g>
<text transform="translate(998.07 13.70) scale(1 .955)" font-size="17.85">,</text>
<text class="g" font-size="17.7" transform="translate(1007.97 13.70) scale(1.170 1.030)">σ</text>
<text transform="translate(1019.88 13.70) scale(1 .955)" font-size="17.85">)</text>
<g transform="translate(905.30 271.00) scale(0.800)" fill="none" stroke="#000" stroke-linecap="butt"><path d="M1.2 -9V2.4" stroke-width="1.45"/><ellipse cx="1.15" cy="2.9" rx="1.05" ry="1.05" fill="#000" stroke="none"/><path d="M1.2 -3.4C1.3 .7 5.6 1.1 7.05 -3.2" stroke-width="1.5"/><path d="M7.1 -9V-1.7C7.1 .5 8.9 .5 9.9 -2.1" stroke-width="1.3"/></g>
<text class="g" font-size="17.7" transform="translate(717.00 128.78) rotate(-90) scale(0.936 0.824)">σ</text>
<g fill="#FAA41A" stroke="#fff" stroke-width="1.5">
<rect x="104.1" y="527.45" width="8.54" height="3.1"/>
<rect x="112.64" y="526.25" width="8.54" height="4.3"/>
<rect x="121.17" y="525.05" width="8.54" height="5.5"/>
<rect x="129.71" y="518.55" width="8.54" height="12"/>
<rect x="138.25" y="507.25" width="8.54" height="23.3"/>
<rect x="146.78" y="487.15" width="8.54" height="43.4"/>
<rect x="155.32" y="457.55" width="8.54" height="73"/>
<rect x="163.86" y="410.15" width="8.54" height="120.4"/>
<rect x="172.4" y="371.75" width="8.54" height="158.8"/>
<rect x="180.93" y="384.35" width="8.54" height="146.2"/>
<rect x="189.47" y="450.55" width="8.54" height="80"/>
<rect x="198.01" y="511.65" width="8.54" height="18.9"/>
</g>
<line x1="132.2" x2="132.2" y1="537.2" y2="365.3" stroke="#3A55AA" stroke-width="1.5" stroke-dasharray="5.1 5.6"/>
<line x1="198.6" x2="198.6" y1="537.2" y2="365.3" stroke="#3A55AA" stroke-width="1.5" stroke-dasharray="5.1 5.6"/>
<line x1="172.8" x2="172.8" y1="537.2" y2="365.3" stroke="#3A55AA" stroke-width="1.6"/>
<path d="M7.8 536.6H285.6M18.8 536.6v8.9M44.4 536.6v8.9M70 536.6v8.9M95.6 536.6v8.9M121.2 536.6v8.9M146.8 536.6v8.9M172.4 536.6v8.9M198 536.6v8.9M223.6 536.6v8.9M249.2 536.6v8.9M274.8 536.6v8.9" fill="none" stroke="#000" stroke-width="1.5"/>
<g font-size="14" text-anchor="middle">
<text x="18.8" y="567.3">−0.10</text>
<text x="70" y="567.3">−0.06</text>
<text x="121.2" y="567.3">−0.02</text>
<text x="172.4" y="567.3">0.02</text>
<text x="223.6" y="567.3">0.06</text>
<text x="274.8" y="567.3">0.10</text>
</g>
<text transform="translate(-2.41 340.80) scale(1 .955)" font-size="17.85" textLength="184.4" lengthAdjust="spacingAndGlyphs">Posterior Distribution of</text>
<text class="g" font-size="17.7" transform="translate(187.44 341.40) scale(1.200 1.020)">θ</text>
<path d="M198.70 339.20L201.60 336.60V344.50" fill="none" stroke="#000" stroke-width="1.50" stroke-linejoin="miter"/>
<line x1="208.30" x2="217.80" y1="334.65" y2="334.65" stroke="#000" stroke-width="1.35"/>
<line x1="208.30" x2="217.80" y1="338.05" y2="338.05" stroke="#000" stroke-width="1.35"/>
<g transform="translate(222.80 340.80) scale(1.000)" fill="none" stroke="#000" stroke-linecap="butt"><path d="M1.2 -9V2.4" stroke-width="1.45"/><ellipse cx="1.15" cy="2.9" rx="1.05" ry="1.05" fill="#000" stroke="none"/><path d="M1.2 -3.4C1.3 .7 5.6 1.1 7.05 -3.2" stroke-width="1.5"/><path d="M7.1 -9V-1.7C7.1 .5 8.9 .5 9.9 -2.1" stroke-width="1.3"/></g>
<line x1="235.90" x2="245.30" y1="336.40" y2="336.40" stroke="#000" stroke-width="1.35"/>
<path d="M251.86 332.47L255.20 329.48V340.80" fill="none" stroke="#000" stroke-width="1.72" stroke-linejoin="miter"/>
<text transform="translate(259.34 340.80) scale(1 .955)" font-size="17.85">.96</text>
<text class="g" font-size="17.7" transform="translate(283.07 340.80) scale(1.170 1.030)">σ</text>
<text class="g" font-size="17.7" transform="translate(139.39 598.80) scale(1.032 0.877)">θ</text>
<path d="M148.84 596.84L151.30 594.62V601.50" fill="none" stroke="#000" stroke-width="1.27" stroke-linejoin="miter"/>
<g fill="#FAA41A" stroke="#fff" stroke-width="1.5">
<rect x="502.3" y="527.45" width="8.54" height="3.3"/>
<rect x="510.84" y="501.15" width="8.54" height="29.6"/>
<rect x="519.37" y="429.55" width="8.54" height="101.2"/>
<rect x="527.91" y="375.35" width="8.54" height="155.4"/>
<rect x="536.45" y="371.85" width="8.54" height="158.9"/>
<rect x="544.99" y="420.45" width="8.54" height="110.3"/>
<rect x="553.52" y="463.05" width="8.54" height="67.7"/>
<rect x="562.06" y="493.65" width="8.54" height="37.1"/>
<rect x="570.6" y="510.25" width="8.54" height="20.5"/>
<rect x="579.13" y="520.25" width="8.54" height="10.5"/>
<rect x="587.67" y="525.25" width="8.54" height="5.5"/>
<rect x="596.21" y="526.55" width="8.54" height="4.2"/>
<rect x="604.74" y="528.55" width="8.54" height="2.2"/>
</g>
<line x1="389.2" x2="666.4" y1="530.25" y2="530.25" stroke="#FAA41A" stroke-width="1.5"/>
<line x1="516.7" x2="516.7" y1="537.2" y2="365.3" stroke="#3A55AA" stroke-width="1.5" stroke-dasharray="5.1 5.6"/>
<line x1="582.9" x2="582.9" y1="537.2" y2="365.3" stroke="#3A55AA" stroke-width="1.5" stroke-dasharray="5.1 5.6"/>
<line x1="542" x2="542" y1="537.2" y2="365.3" stroke="#3A55AA" stroke-width="1.6"/>
<path d="M389.2 536.6H666.4M399.9 536.6v8.9M425.5 536.6v8.9M451.1 536.6v8.9M476.7 536.6v8.9M502.3 536.6v8.9M527.9 536.6v8.9M553.5 536.6v8.9M579.1 536.6v8.9M604.7 536.6v8.9M630.3 536.6v8.9M655.9 536.6v8.9" fill="none" stroke="#000" stroke-width="1.5"/>
<g font-size="14" text-anchor="middle">
<text x="399.9" y="567.3">0.00</text>
<text x="451.1" y="567.3">0.04</text>
<text x="502.3" y="567.3">0.08</text>
<text x="553.5" y="567.3">0.12</text>
<text x="604.7" y="567.3">0.16</text>
<text x="655.9" y="567.3">0.20</text>
</g>
<text transform="translate(378.89 340.90) scale(1 .955)" font-size="17.85" textLength="184.4" lengthAdjust="spacingAndGlyphs">Posterior Distribution of</text>
<text class="g" font-size="17.7" transform="translate(568.74 341.50) scale(1.200 1.020)">θ</text>
<text x="578.60" y="344.60" font-size="12.6">2</text>
<line x1="589.60" x2="599.10" y1="334.75" y2="334.75" stroke="#000" stroke-width="1.35"/>
<line x1="589.60" x2="599.10" y1="338.15" y2="338.15" stroke="#000" stroke-width="1.35"/>
<g transform="translate(604.10 340.90) scale(1.000)" fill="none" stroke="#000" stroke-linecap="butt"><path d="M1.2 -9V2.4" stroke-width="1.45"/><ellipse cx="1.15" cy="2.9" rx="1.05" ry="1.05" fill="#000" stroke="none"/><path d="M1.2 -3.4C1.3 .7 5.6 1.1 7.05 -3.2" stroke-width="1.5"/><path d="M7.1 -9V-1.7C7.1 .5 8.9 .5 9.9 -2.1" stroke-width="1.3"/></g>
<line x1="617.00" x2="626.90" y1="336.50" y2="336.50" stroke="#000" stroke-width="1.35"/>
<line x1="621.95" x2="621.95" y1="331.90" y2="341.00" stroke="#000" stroke-width="1.35"/>
<path d="M633.16 332.56L636.50 329.57V340.90" fill="none" stroke="#000" stroke-width="1.72" stroke-linejoin="miter"/>
<text transform="translate(640.64 340.90) scale(1 .955)" font-size="17.85">.96</text>
<text class="g" font-size="17.7" transform="translate(664.37 340.90) scale(1.170 1.030)">σ</text>
<text class="g" font-size="17.7" transform="translate(520.59 598.80) scale(1.032 0.877)">θ</text>
<text x="528.53" y="601.30" font-size="11.2">2</text>
</svg>
</body></html>
